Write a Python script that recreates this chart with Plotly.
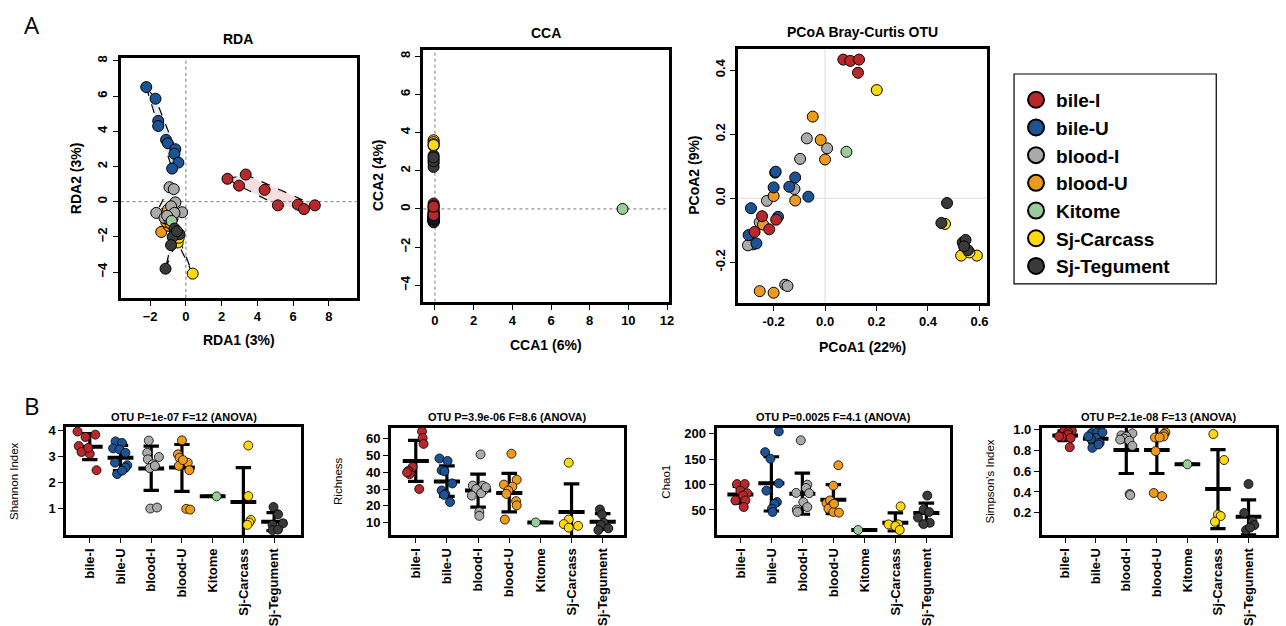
import plotly.graph_objects as go

W, H = 1286, 626

groups = ["bile-I", "bile-U", "blood-I", "blood-U", "Kitome", "Sj-Carcass", "Sj-Tegument"]
colors = ["#B8282B", "#1B5394", "#AAAAAA", "#EE9A1A", "#9ACD9A", "#FFD80F", "#3A3A3A"]
fills = ["rgba(184,40,43,0.15)", "rgba(27,83,148,0.12)", "rgba(170,170,170,0.15)",
         "rgba(238,154,26,0.15)", "rgba(154,205,154,0.15)", "rgba(255,216,15,0.15)",
         "rgba(58,58,58,0.12)"]

# ---------------- RDA ----------------
rda_x = {
    "bile-I": [2.33, 2.98, 3.35, 4.41, 5.15, 6.27, 6.61, 7.22],
    "bile-U": [-2.22, -1.70, -1.55, -1.55, -1.11, -1.01, -0.59, -0.64, -0.42, -0.77],
    "blood-I": [-0.92, -0.68, -0.59, -0.83, -0.21, -0.64, -1.66, -1.20, -0.92, -1.05],
    "blood-U": [-1.38, -0.96, -1.10, -1.25, -0.85, -1.00, -0.75, -1.15],
    "Kitome": [-0.80],
    "Sj-Carcass": [0.38, -0.46, -0.55, -0.40, -0.60],
    "Sj-Tegument": [-0.64, -0.36, -0.74, -0.83, -1.14, -0.50],
}
rda_y = {
    "bile-I": [1.30, 0.91, 1.54, 0.67, -0.21, -0.17, -0.42, -0.21],
    "bile-U": [6.51, 5.85, 4.59, 4.30, 3.51, 3.32, 2.98, 2.72, 2.22, 1.88],
    "blood-I": [0.82, 0.71, -0.04, -0.26, -0.60, -0.64, -0.64, -0.92, -1.01, -0.80],
    "blood-U": [-1.72, -1.38, -1.16, -0.70, -1.25, -0.45, -0.95, -0.95],
    "Kitome": [-1.10],
    "Sj-Carcass": [-4.09, -2.32, -1.90, -2.05, -1.75],
    "Sj-Tegument": [-1.53, -1.85, -2.00, -2.47, -3.81, -1.68],
}
rda_ticks = [-2, 0, 2, 4, 6, 8]
rda_yticks = [-4, -2, 0, 2, 4, 6, 8]

# ---------------- CCA ----------------
cca_x = {
    "bile-I": [-0.07, -0.07, -0.07, -0.07, -0.07, -0.07, -0.07, -0.07],
    "bile-U": [-0.07, -0.07, -0.07, -0.07, -0.07, -0.07, -0.07, -0.07, -0.07, -0.07],
    "blood-I": [-0.07, -0.07, -0.07, -0.07, -0.07, -0.07, -0.07, -0.07, -0.07, -0.07],
    "blood-U": [-0.07, -0.07, -0.07, -0.07, -0.07, -0.07, -0.07, -0.07],
    "Kitome": [9.70],
    "Sj-Carcass": [-0.07, -0.07, -0.07, -0.07, -0.07],
    "Sj-Tegument": [-0.07, -0.07, -0.07, -0.07, -0.07, -0.07],
}
cca_y = {
    "bile-I": [0.28, 0.18, 0.08, -0.02, -0.12, -0.22, -0.32, 0.12],
    "bile-U": [-0.35, -0.45, -0.25, -0.55, -0.40, -0.30, -0.50, -0.20, -0.45, -0.38],
    "blood-I": [-0.55, -0.62, -0.48, -0.70, -0.58, -0.66, -0.52, -0.60, -0.64, -0.56],
    "blood-U": [-0.50, -0.60, -0.42, -0.68, -0.55, -0.47, -0.63, -0.58],
    "Kitome": [0.0],
    "Sj-Carcass": [3.60, 3.30, 3.50, 3.40, 3.35],
    "Sj-Tegument": [2.80, 2.60, 2.40, 2.20, 2.50, 2.70],
}
cca_ticks = [0, 2, 4, 6, 8, 10, 12]
cca_yticks = [-4, -2, 0, 2, 4, 6, 8]

# ---------------- PCoA ----------------
pcoa_x = {
    "bile-I": [0.071, 0.098, 0.132, 0.128, -0.245, -0.274, -0.217, -0.190],
    "bile-U": [-0.194, -0.116, -0.200, -0.139, -0.065, -0.288, -0.183, -0.297, -0.267, -0.192],
    "blood-I": [-0.071, 0.008, -0.097, -0.119, -0.226, -0.254, -0.280, -0.300, -0.155, -0.146],
    "blood-U": [-0.048, -0.017, 0.000, -0.200, -0.116, -0.254, -0.200, -0.241],
    "Kitome": [0.083],
    "Sj-Carcass": [0.201, 0.466, 0.529, 0.590, 0.561],
    "Sj-Tegument": [0.474, 0.452, 0.535, 0.546, 0.555, 0.540],
}
pcoa_y = {
    "bile-I": [0.433, 0.429, 0.433, 0.392, -0.056, -0.105, -0.097, -0.067],
    "bile-U": [0.080, 0.065, 0.034, 0.036, 0.005, -0.031, -0.058, -0.115, -0.141, 0.083],
    "blood-I": [0.187, 0.156, 0.123, 0.029, -0.008, -0.075, -0.144, -0.147, -0.270, -0.274],
    "blood-U": [0.255, 0.182, 0.121, 0.007, -0.007, -0.290, -0.295, -0.082],
    "Kitome": [0.145],
    "Sj-Carcass": [0.338, -0.080, -0.179, -0.179, -0.169],
    "Sj-Tegument": [-0.015, -0.077, -0.138, -0.130, -0.162, -0.150],
}
pcoa_ticks = [-0.2, 0.0, 0.2, 0.4, 0.6]
pcoa_ticktext = ["-0.2", "0.0", "0.2", "0.4", "0.6"]
pcoa_yticks = [-0.2, 0.0, 0.2, 0.4]
pcoa_yticktext = ["-0.2", "0.0", "0.2", "0.4"]

# ---------------- Alpha diversity ----------------
shannon_vals = {
    "bile-I": [3.97, 3.76, 3.85, 3.41, 3.18, 3.11, 3.34, 2.48],
    "bile-U": [3.59, 3.53, 3.32, 3.28, 3.15, 2.77, 2.67, 2.58, 2.33, 2.46],
    "blood-I": [3.62, 3.15, 2.99, 2.90, 2.71, 2.56, 2.65, 1.00, 1.04],
    "blood-U": [3.63, 3.09, 2.96, 2.77, 2.65, 2.48, 2.87, 0.99, 0.96],
    "Kitome": [1.47],
    "Sj-Carcass": [3.43, 1.48, 0.56, 0.46, 0.37],
    "Sj-Tegument": [1.06, 0.78, 0.43, 0.37, 0.17, 0.19],
}
shannon_off = {
    "bile-I": [-0.40, -0.14, 0.18, -0.36, -0.27, 0.0, -0.05, 0.22],
    "bile-U": [-0.16, 0.05, -0.24, -0.03, 0.16, -0.18, 0.22, 0.16, -0.11, 0.05],
    "blood-I": [-0.08, -0.13, 0.25, -0.11, 0.05, -0.05, 0.12, -0.03, 0.19],
    "blood-U": [0.0, -0.13, -0.08, 0.19, -0.10, 0.24, 0.03, 0.14, 0.27],
    "Kitome": [0.13],
    "Sj-Carcass": [0.16, 0.16, 0.24, 0.19, 0.13],
    "Sj-Tegument": [-0.02, 0.13, 0.29, -0.05, -0.05, 0.13],
}
shannon_mean = [3.38, 2.96, 2.54, 2.58, 1.47, 1.25, 0.49]
shannon_lo = [2.89, 2.46, 1.70, 1.66, 1.47, -0.08, 0.15]
shannon_hi = [3.89, 3.44, 3.41, 3.47, 1.47, 2.58, 0.84]

richness_vals = {
    "bile-I": [64.1, 60.2, 56.7, 43.1, 40.7, 38.8, 39.8, 30.0],
    "bile-U": [48.1, 46.6, 41.1, 40.5, 33.3, 29.1, 27.0, 26.5, 22.3],
    "blood-I": [50.5, 32.0, 32.0, 30.0, 29.5, 26.1, 27.5, 16.4, 14.1, 31.0],
    "blood-U": [50.9, 35.5, 32.6, 31.4, 29.1, 27.1, 22.8, 20.3, 11.9],
    "Kitome": [10.2],
    "Sj-Carcass": [45.6, 11.9, 9.2, 7.1, 8.2],
    "Sj-Tegument": [17.9, 15.0, 10.0, 8.6, 6.7, 5.7],
}
richness_off = {
    "bile-I": [0.20, 0.22, 0.25, -0.10, -0.24, -0.20, -0.28, 0.11],
    "bile-U": [-0.24, 0.02, -0.17, -0.08, 0.17, -0.17, -0.05, -0.09, 0.10],
    "blood-I": [0.08, -0.17, 0.15, -0.06, 0.20, -0.20, 0.10, 0.04, 0.04, 0.25],
    "blood-U": [0.07, 0.24, -0.17, 0.10, -0.03, -0.09, 0.22, 0.24, -0.14],
    "Kitome": [-0.15],
    "Sj-Carcass": [-0.09, -0.09, -0.25, -0.09, 0.21],
    "Sj-Tegument": [-0.09, -0.02, 0.03, -0.06, 0.18, -0.14],
}
richness_mean = [46.6, 34.5, 29.1, 27.7, 10.2, 16.4, 10.6]
richness_lo = [34.5, 25.6, 19.3, 16.4, 10.2, -0.2, 6.1]
richness_hi = [58.8, 43.7, 38.8, 39.2, 10.2, 33.0, 15.4]

chao_vals = {
    "bile-I": [101, 101, 88, 83, 78.4, 68.7, 68.7, 55.8],
    "bile-U": [204.5, 163.8, 150.9, 102.4, 88, 65.5, 62.3, 52.6, 46.1],
    "blood-I": [187, 99.8, 83.6, 93.3, 83, 65.5, 55.8, 50.6, 46.1],
    "blood-U": [138, 97.8, 63.6, 68.7, 59, 52.6, 46.1, 44.8, 62.3],
    "Kitome": [10.6],
    "Sj-Carcass": [57.1, 21.6, 21.6, 18.3, 10.6],
    "Sj-Tegument": [78.4, 35.1, 50.6, 46.1, 24.8, 22.2],
}
chao_off = {
    "bile-I": [-0.11, 0.14, 0.0, 0.22, 0.09, -0.16, 0.16, 0.11],
    "bile-U": [0.24, -0.20, -0.03, 0.24, -0.16, 0.18, 0.10, 0.02, 0.04],
    "blood-I": [-0.05, 0.16, -0.20, 0.12, 0.22, 0.03, 0.16, -0.18, -0.16],
    "blood-U": [0.16, 0.0, -0.22, -0.11, -0.05, -0.16, 0.0, 0.18, 0.02],
    "Kitome": [-0.20],
    "Sj-Carcass": [0.17, 0.09, -0.22, 0.0, 0.14],
    "Sj-Tegument": [0.03, -0.27, -0.09, 0.09, 0.11, -0.09],
}
chao_mean = [80.4, 102.4, 81.7, 70.0, 10.6, 24.8, 44.2]
chao_lo = [63.6, 48.0, 41.6, 42.9, 10.6, 8.6, 22.2]
chao_hi = [96.5, 154.7, 122.4, 99.8, 10.6, 44.2, 63.6]

simpson_vals = {
    "bile-I": [0.984, 0.984, 0.970, 0.947, 0.925, 0.915, 0.930, 0.827],
    "bile-U": [0.962, 0.969, 0.969, 0.915, 0.909, 0.868, 0.821, 0.853, 0.931],
    "blood-I": [0.96, 0.94, 0.93, 0.91, 0.90, 0.89, 0.84, 0.38, 0.37],
    "blood-U": [0.969, 0.953, 0.930, 0.920, 0.920, 0.790, 0.390, 0.360],
    "Kitome": [0.664],
    "Sj-Carcass": [0.953, 0.705, 0.184, 0.170, 0.115],
    "Sj-Tegument": [0.476, 0.200, 0.120, 0.083, 0.036, 0.060],
}
simpson_off = {
    "bile-I": [-0.03, 0.22, 0.10, 0.09, -0.11, 0.18, -0.20, 0.15],
    "bile-U": [-0.13, 0.05, 0.22, 0.0, -0.16, 0.13, -0.11, 0.09, -0.24],
    "blood-I": [0.20, -0.16, 0.0, -0.08, -0.20, 0.10, 0.20, 0.11, 0.13],
    "blood-U": [0.28, 0.23, 0.22, -0.06, 0.09, -0.04, -0.10, 0.17],
    "Kitome": [0.0],
    "Sj-Carcass": [-0.15, 0.20, 0.0, 0.09, -0.10],
    "Sj-Tegument": [0.0, -0.14, 0.13, 0.19, -0.08, 0.05],
}
simpson_mean = [0.940, 0.909, 0.800, 0.800, 0.664, 0.429, 0.162]
simpson_lo = [0.890, 0.868, 0.576, 0.576, 0.664, 0.050, -0.010]
simpson_hi = [0.984, 0.953, 1.025, 1.025, 0.664, 0.805, 0.325]

alpha_titles = ["OTU P=1e-07 F=12 (ANOVA)", "OTU P=3.9e-06 F=8.6 (ANOVA)",
                "OTU P=0.0025 F=4.1 (ANOVA)", "OTU P=2.1e-08 F=13 (ANOVA)"]
alpha_ylabels = ["Shannon Index", "Richness", "Chao1", "Simpson's Index"]
shannon_ticks = [1, 2, 3, 4]
richness_ticks = [10, 20, 30, 40, 50, 60]
chao_ticks = [50, 100, 150, 200]
simpson_ticks = [0.2, 0.4, 0.6, 0.8, 1.0]
simpson_ticktext = ["0.2", "0.4", "0.6", "0.8", "1.0"]

# ---------------- helpers ----------------
FONT = "Liberation Sans"


def dx(a, b):
    return [a / W, b / W]


def dy(top, bottom):
    return [1 - bottom / H, 1 - top / H]


def hull(xs, ys):
    pts = sorted(set(zip(xs, ys)))
    if len(pts) < 3:
        return None

    def cross(o, a, b):
        return (a[0] - o[0]) * (b[1] - o[1]) - (a[1] - o[1]) * (b[0] - o[0])

    lower = []
    for p in pts:
        while len(lower) >= 2 and cross(lower[-2], lower[-1], p) <= 0:
            lower.pop()
        lower.append(p)
    upper = []
    for p in reversed(pts):
        while len(upper) >= 2 and cross(upper[-2], upper[-1], p) <= 0:
            upper.pop()
        upper.append(p)
    h = lower[:-1] + upper[:-1]
    h.append(h[0])
    return h


def axis(domain, rng, tickvals, ticktext=None, tickangle=0, fsize=13):
    d = dict(domain=domain, range=rng, tickmode="array", tickvals=tickvals,
             showline=True, linecolor="black", linewidth=3, mirror=True,
             ticks="outside", ticklen=5, tickwidth=1.2, tickcolor="black",
             showgrid=False, zeroline=False, tickangle=tickangle,
             tickfont=dict(family=FONT, size=fsize, color="black", weight="bold"))
    if ticktext is not None:
        d["ticktext"] = ticktext
    return d


fig = go.Figure()
layout = {}

# A panels axes
layout["xaxis"] = axis(dx(121, 358), [-3.66, 9.56], rda_ticks)
layout["yaxis"] = axis(dy(53, 296), [-5.46, 8.15], rda_yticks, tickangle=-90)
layout["xaxis"]["anchor"] = "y"
layout["yaxis"]["anchor"] = "x"
layout["xaxis2"] = axis(dx(425, 672), [-0.60, 12.12], cca_ticks)
layout["yaxis2"] = axis(dy(45, 300), [-4.86, 8.31], cca_yticks, tickangle=-90)
layout["xaxis2"]["anchor"] = "y2"
layout["yaxis2"]["anchor"] = "x2"
layout["xaxis3"] = axis(dx(741, 991), [-0.338, 0.630], pcoa_ticks, ticktext=pcoa_ticktext)
layout["yaxis3"] = axis(dy(44, 301), [-0.326, 0.465], pcoa_yticks,
                        ticktext=pcoa_yticktext, tickangle=-90)
layout["xaxis3"]["anchor"] = "y3"
layout["yaxis3"]["anchor"] = "x3"

# B panels axes
b_dom = [(66.7, 302, 427, 537), (392.7, 626, 427.7, 536.7),
         (719.3, 953.3, 427.7, 536.7), (1046, 1280.7, 427.7, 536.7)]
b_xr = [[0.24, 7.87], [0.21, 7.67], [0.23, 7.75], [0.24, 7.89]]
b_yr = [[-0.03, 4.15], [2.76, 66.4], [0.8, 212.2], [-0.011, 1.015]]
b_yt = [shannon_ticks, richness_ticks, chao_ticks, simpson_ticks]
b_ytt = [None, None, None, simpson_ticktext]
for i in range(4):
    n = i + 4
    l, r, t, b = b_dom[i]
    xa = axis(dx(l, r), b_xr[i], list(range(1, 8)), ticktext=groups, tickangle=-90)
    ya = axis(dy(t, b), b_yr[i], b_yt[i], ticktext=b_ytt[i])
    xa["anchor"] = "y%d" % n
    ya["anchor"] = "x%d" % n
    layout["xaxis%d" % n] = xa
    layout["yaxis%d" % n] = ya

# ---------------- RDA traces ----------------
for gi, g in enumerate(groups):
    h = hull(rda_x[g], rda_y[g])
    if h:
        fig.add_trace(go.Scatter(x=[p[0] for p in h], y=[p[1] for p in h], mode="lines",
                                 fill="toself", fillcolor=fills[gi],
                                 line=dict(color="black", width=1.2, dash="dash"),
                                 showlegend=False, hoverinfo="skip", xaxis="x", yaxis="y"))
rda_order = ["bile-U", "bile-I", "blood-U", "blood-I", "Kitome", "Sj-Carcass", "Sj-Tegument"]
for g in rda_order:
    gi = groups.index(g)
    fig.add_trace(go.Scatter(x=rda_x[g], y=rda_y[g], mode="markers",
                             marker=dict(size=11, color=colors[gi], line=dict(color="black", width=1)),
                             showlegend=False, xaxis="x", yaxis="y"))

# ---------------- CCA traces ----------------
cca_order = ["blood-I", "blood-U", "bile-U", "bile-I", "Sj-Tegument", "Sj-Carcass", "Kitome"]
for g in cca_order:
    gi = groups.index(g)
    fig.add_trace(go.Scatter(x=cca_x[g], y=cca_y[g], mode="markers",
                             marker=dict(size=11, color=colors[gi], line=dict(color="black", width=1)),
                             showlegend=False, xaxis="x2", yaxis="y2"))

# ---------------- PCoA traces ----------------
pcoa_order = ["blood-I", "blood-U", "bile-U", "bile-I", "Kitome", "Sj-Carcass", "Sj-Tegument"]
for g in pcoa_order:
    gi = groups.index(g)
    fig.add_trace(go.Scatter(x=pcoa_x[g], y=pcoa_y[g], mode="markers",
                             marker=dict(size=11, color=colors[gi], line=dict(color="black", width=1)),
                             showlegend=False, xaxis="x3", yaxis="y3"))

# legend entries
for gi, g in enumerate(groups):
    fig.add_trace(go.Scatter(x=[None], y=[None], mode="markers", name=g,
                             marker=dict(size=16, color=colors[gi], line=dict(color="black", width=2)),
                             showlegend=True, xaxis="x3", yaxis="y3"))

# ---------------- Alpha traces ----------------
alpha_sets = [
    (shannon_vals, shannon_off, shannon_mean, shannon_lo, shannon_hi),
    (richness_vals, richness_off, richness_mean, richness_lo, richness_hi),
    (chao_vals, chao_off, chao_mean, chao_lo, chao_hi),
    (simpson_vals, simpson_off, simpson_mean, simpson_lo, simpson_hi),
]
CAP = 0.25
MBAR = 0.42
for i, (vals, offs, mean, lo, hi) in enumerate(alpha_sets):
    n = i + 4
    xa, ya = "x%d" % n, "y%d" % n
    ex, ey = [], []
    for k in range(7):
        c = k + 1
        ex += [c, c, None, c - CAP, c + CAP, None, c - CAP, c + CAP, None]
        ey += [lo[k], hi[k], None, lo[k], lo[k], None, hi[k], hi[k], None]
    fig.add_trace(go.Scatter(x=ex, y=ey, mode="lines", line=dict(color="black", width=3.2),
                             showlegend=False, hoverinfo="skip", xaxis=xa, yaxis=ya))
    mx, my = [], []
    for k in range(7):
        c = k + 1
        mx += [c - MBAR, c + MBAR, None]
        my += [mean[k], mean[k], None]
    fig.add_trace(go.Scatter(x=mx, y=my, mode="lines", line=dict(color="black", width=4),
                             showlegend=False, hoverinfo="skip", xaxis=xa, yaxis=ya))
    for gi, g in enumerate(groups):
        fig.add_trace(go.Scatter(x=[gi + 1 + o for o in offs[g]], y=vals[g], mode="markers",
                                 marker=dict(size=9, color=colors[gi], line=dict(color="black", width=0.8)),
                                 showlegend=False, xaxis=xa, yaxis=ya))

# ---------------- reference lines ----------------
shapes = []
for xr, yr, col, dash in [("x", "y", "#777777", "dot"), ("x2", "y2", "#777777", "dot"),
                          ("x3", "y3", "#DDDDDD", "solid")]:
    shapes.append(dict(type="line", xref=xr, yref=yr + " domain", x0=0, x1=0, y0=0, y1=1,
                       line=dict(color=col, width=1, dash=dash), layer="below"))
    shapes.append(dict(type="line", xref=xr + " domain", yref=yr, x0=0, x1=1, y0=0, y1=0,
                       line=dict(color=col, width=1, dash=dash), layer="below"))
# legend frame
shapes.append(dict(type="rect", xref="paper", yref="paper", x0=1018 / W, x1=1221 / W,
                   y0=1 - 282 / H, y1=1 - 69 / H, line=dict(color="black", width=1.2)))

# ---------------- annotations ----------------
ann = []


def text(x, y, s, size, bold=True, angle=0, family=FONT):
    ann.append(dict(x=x / W, y=1 - y / H, xref="paper", yref="paper", text=s, showarrow=False,
                    textangle=angle, xanchor="center", yanchor="middle",
                    font=dict(family=family, size=size, color="black",
                              weight="bold" if bold else "normal")))


text(32, 19, "A", 24, bold=False, family="Open Sans")
text(32, 405, "B", 24, bold=False, family="Open Sans")
text(239, 33, "RDA", 14)
text(548, 27, "CCA", 14)
text(866, 26, "PCoA Bray-Curtis OTU", 14)
text(240, 339, "RDA1 (3%)", 14)
text(77, 175, "RDA2 (3%)", 14, angle=-90)
text(548, 344, "CCA1 (6%)", 14)
text(379, 172, "CCA2 (4%)", 14, angle=-90)
text(866, 346, "PCoA1 (22%)", 14)
text(696, 172, "PCoA2 (9%)", 14, angle=-90)
b_ylab_x = [14, 340, 669, 994]
for i in range(4):
    l, r, t, b = b_dom[i]
    text((l + r) / 2, 417, alpha_titles[i], 11)
    text(b_ylab_x[i], (t + b) / 2, alpha_ylabels[i], 11.5, bold=False, angle=-90)

fig.update_layout(**layout)
fig.update_layout(
    width=W, height=H, margin=dict(l=0, r=0, t=0, b=0),
    paper_bgcolor="white", plot_bgcolor="white",
    shapes=shapes, annotations=ann,
    legend=dict(x=1020 / W, y=1 - 76 / H, xanchor="left", yanchor="top",
                bgcolor="rgba(0,0,0,0)", borderwidth=0,
                font=dict(family=FONT, size=19, color="black", weight="bold"),
                itemsizing="trace"),
)
fig.write_html("out.html", config={"displayModeBar": False},
               post_script="document.body.style.margin='0px';")
